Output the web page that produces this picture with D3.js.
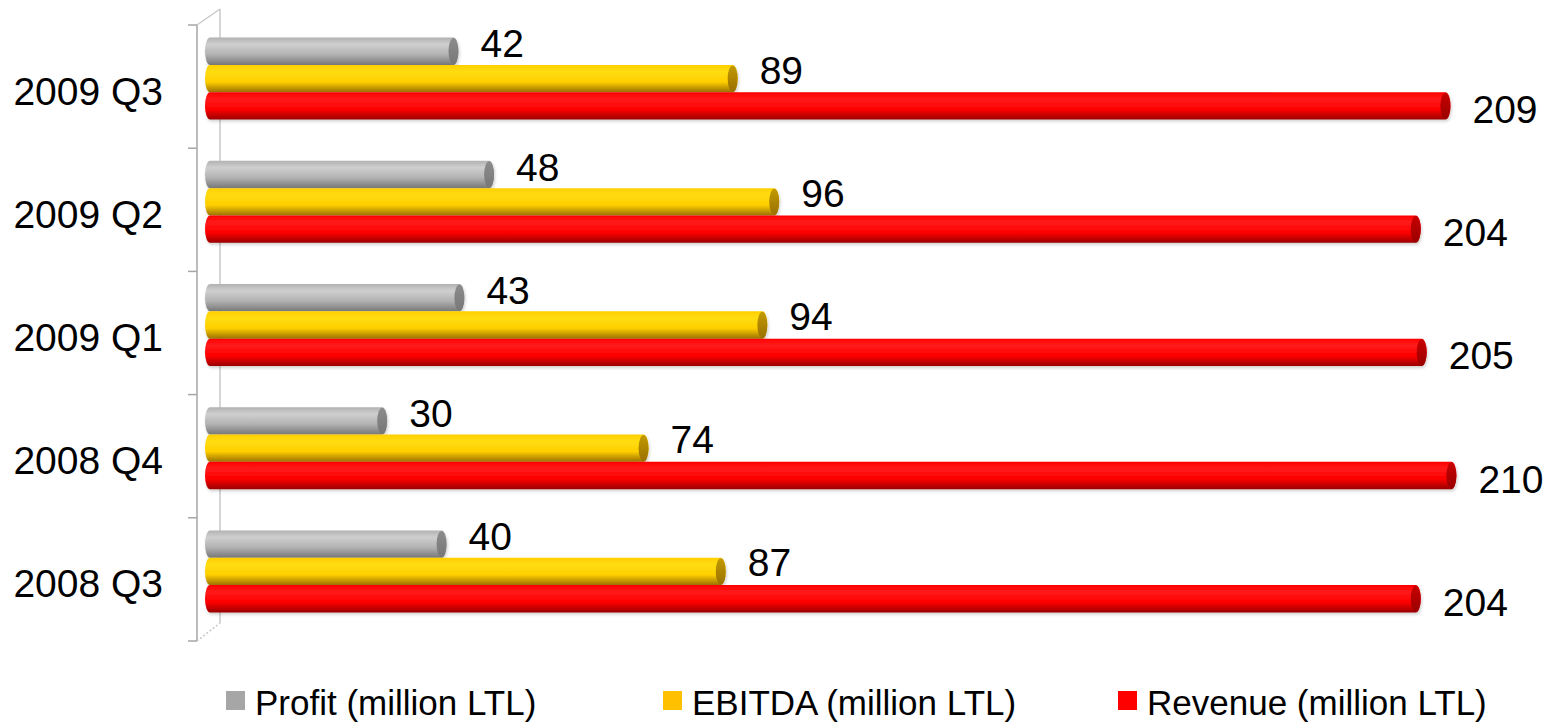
<!DOCTYPE html>
<html><head><meta charset="utf-8">
<script src="https://cdn.jsdelivr.net/npm/d3@7"></script>
<style>body{margin:0;background:#fff;}svg{display:block;font-family:"Liberation Sans",Arial,sans-serif;}</style>
</head><body><svg id="c" width="1563" height="725"></svg>
<script>
const categories = ["2009 Q3","2009 Q2","2009 Q1","2008 Q4","2008 Q3"];
const seriesNames = ["Profit (million LTL)","EBITDA (million LTL)","Revenue (million LTL)"];
const profit = [42,48,43,30,40];
const ebitda = [89,96,94,74,87];
const revenue = [209,204,205,210,204];
const seriesValues = [profit, ebitda, revenue];
const seriesColors = [
  {light:"#cfcfcf", mid:"#b2b2b2", dark:"#777777", cap:"#8c8c8c", legend:"#a6a6a6"},
  {light:"#ffdc10", mid:"#ffcf00", dark:"#9a7000", cap:"#c29a00", legend:"#ffc000"},
  {light:"#ff1a1a", mid:"#ff0000", dark:"#9a0000", cap:"#c80000", legend:"#ff0000"}
];

const svg = d3.select("#c");
const defs = svg.append("defs");
seriesColors.forEach((c,i)=>{
  const g = defs.append("linearGradient").attr("id","g"+i).attr("x1",0).attr("y1",0).attr("x2",0).attr("y2",1);
  g.append("stop").attr("offset","0%").attr("stop-color",c.mid);
  g.append("stop").attr("offset","25%").attr("stop-color",c.light);
  g.append("stop").attr("offset","62%").attr("stop-color",c.mid);
  g.append("stop").attr("offset","100%").attr("stop-color",c.dark);
  const gc = defs.append("linearGradient").attr("id","gc"+i).attr("x1",0).attr("y1",0).attr("x2",0).attr("y2",1);
  gc.append("stop").attr("offset","0%").attr("stop-color",c.cap);
  gc.append("stop").attr("offset","100%").attr("stop-color",c.dark);
});
const f = defs.append("filter").attr("id","sh").attr("x","-5%").attr("y","-30%").attr("width","110%").attr("height","180%");
f.append("feDropShadow").attr("dx",1).attr("dy",2).attr("stdDeviation",1.5).attr("flood-color","#000").attr("flood-opacity",0.18);

const x = d3.scaleLinear().domain([0,210]).range([209, 209+210*5.94]);
const y = d3.scaleBand().domain(categories).range([25,641]).paddingInner(0).paddingOuter(0);
const yi = d3.scaleBand().domain(d3.range(3)).range([0,y.bandwidth()]).paddingInner(0).paddingOuter(0.755);
const groupShift = -8;

// axis wall
const ax = svg.append("g").attr("stroke","#a6a6a6").attr("stroke-width",1.5).attr("fill","none");
ax.append("line").attr("x1",197).attr("x2",197).attr("y1",25).attr("y2",641);
ax.append("line").attr("x1",220).attr("x2",220).attr("y1",9).attr("y2",623).attr("stroke","#c8c8c8");
ax.append("line").attr("x1",197).attr("x2",220).attr("y1",25).attr("y2",9).attr("stroke","#c8c8c8");
ax.append("line").attr("x1",197).attr("x2",220).attr("y1",641).attr("y2",623).attr("stroke","#c8c8c8").attr("stroke-dasharray","2,2");
const tickYs = categories.map(c=>y(c)).concat([y.range()[1]]);
ax.selectAll("line.t").data(tickYs).enter().append("line").attr("class","t")
  .attr("x1",188).attr("x2",197).attr("y1",d=>d).attr("y2",d=>d);

// bars
const x0 = 205;
categories.forEach((cat,ci)=>{
  seriesValues.forEach((vals,si)=>{
    const v = vals[ci];
    const top = y(cat) + yi(si) + groupShift;
    const h = yi.bandwidth();
    const xe = x(v);
    const rx = 5;
    const g = svg.append("g").attr("filter","url(#sh)");
    g.append("rect").attr("x",x0).attr("y",top).attr("width",xe-x0).attr("height",h)
      .attr("rx",rx).attr("ry",h/2).attr("fill",`url(#g${si})`);
    g.append("ellipse").attr("cx",xe-rx).attr("cy",top+h/2).attr("rx",rx).attr("ry",h/2-0.5)
      .attr("fill",`url(#gc${si})`);
  });
});

// value labels
const labelDy = [-8,-9,3];
categories.forEach((cat,ci)=>{
  seriesValues.forEach((vals,si)=>{
    const v = vals[ci];
    const cy = y(cat) + yi(si) + groupShift + yi.bandwidth()/2 + labelDy[si];
    svg.append("text").attr("x",x(v)+22).attr("y",cy).attr("dy","0.36em")
      .attr("font-size",39).attr("fill","#000").text(v);
  });
});

// category labels
categories.forEach(cat=>{
  svg.append("text").attr("x",163).attr("y",y(cat)+y.bandwidth()/2+4).attr("dy","0.36em")
    .attr("text-anchor","end").attr("font-size",39).attr("fill","#000").text(cat);
});

// legend
const legendX = [226, 663, 1118];
seriesNames.forEach((n,i)=>{
  svg.append("rect").attr("x",legendX[i]).attr("y",691).attr("width",19).attr("height",19).attr("fill",seriesColors[i].legend);
  svg.append("text").attr("x",legendX[i]+29).attr("y",715).attr("font-size",35).attr("fill","#000").text(n);
});
</script></body></html>
